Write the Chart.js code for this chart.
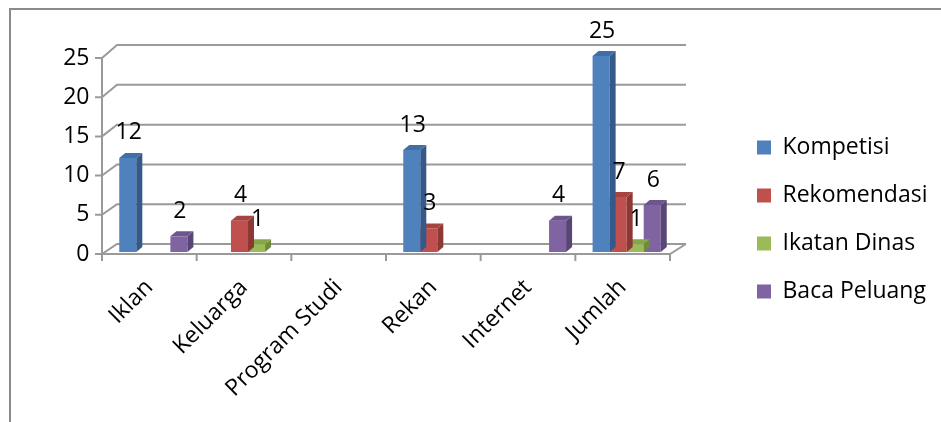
<!DOCTYPE html>
<html>
<head>
<meta charset="utf-8">
<script src="https://cdn.jsdelivr.net/npm/chart.js@4.4.0/dist/chart.umd.min.js"></script>
<style>
  html, body { margin: 0; padding: 0; background: #fff; }
  #wrap { width: 941px; height: 422px; }
</style>
</head>
<body>
<div id="wrap"><canvas id="chart" width="941" height="422"></canvas></div>
<script>
const categories = ['Iklan', 'Keluarga', 'Program Studi', 'Rekan', 'Internet', 'Jumlah'];
const seriesNames = ['Kompetisi', 'Rekomendasi', 'Ikatan Dinas', 'Baca Peluang'];
const kompetisi = [12, 0, 0, 13, 0, 25];
const rekomendasi = [0, 4, 0, 3, 0, 7];
const ikatanDinas = [0, 1, 0, 0, 0, 1];
const bacaPeluang = [2, 0, 0, 0, 4, 6];
const yTicks = [0, 5, 10, 15, 20, 25];

// front / side / top colours for the fake 3d bars
const frontColors = ['#4F81BD', '#C0504D', '#9BBB59', '#8064A2'];
const sideColors = ['#34598a', '#8c3936', '#6f8a3c', '#5a4676'];
const topColors = ['#416ea6', '#a74441', '#87a64b', '#6d5590'];

const FONT = 'Open Sans';
const DEPTH_X = 6, DEPTH_Y = -5;      // bar depth
const SHIFT_X = 4, SHIFT_Y = -2;      // bars sit a bit behind the front plane
const WALL_X = 15, WALL_Y = -10;      // back wall offset
const PLOT_RIGHT = 670;               // right edge of the front floor
const LEGEND_LEFT = 732, LEGEND_TOP = 59, LEGEND_BOTTOM = 380;

const frame3d = {
  id: 'frame3d',
  afterLayout(chart) {
    // park the legend where the original had it, away from the plot
    const lg = chart.legend;
    const w = lg.width;
    lg.left = LEGEND_LEFT;
    lg.right = LEGEND_LEFT + w;
    lg.top = LEGEND_TOP;
    lg.bottom = LEGEND_BOTTOM;
    lg.height = LEGEND_BOTTOM - LEGEND_TOP;
  },
  beforeDraw(chart) {
    const ctx = chart.ctx;
    ctx.save();
    ctx.strokeStyle = '#8a8a8a';
    ctx.lineWidth = 2;
    ctx.beginPath();
    ctx.moveTo(10, 430);
    ctx.lineTo(10, 9);
    ctx.lineTo(950, 9);
    ctx.stroke();
    ctx.restore();
  },
  beforeDatasetsDraw(chart) {
    const { ctx, chartArea: a, scales: { y } } = chart;
    const y0 = y.getPixelForValue(0);
    ctx.save();
    ctx.strokeStyle = '#9a9a9a';
    ctx.lineWidth = 2;
    ctx.beginPath();
    yTicks.forEach(v => {
      const fy = y.getPixelForValue(v);
      const by = fy + WALL_Y - (y0 - fy) * 0.015;
      ctx.moveTo(a.left - 7, fy);
      ctx.lineTo(a.left, fy);
      ctx.lineTo(a.left + WALL_X, by);
      ctx.lineTo(a.right + WALL_X + 1, by);
    });
    // y axis line
    ctx.moveTo(a.left, y.getPixelForValue(25));
    ctx.lineTo(a.left, y0 + 7);
    // floor front edge and right side
    ctx.moveTo(a.left, y0);
    ctx.lineTo(a.right, y0);
    ctx.lineTo(a.right + WALL_X + 1, y0 + WALL_Y);
    // category ticks
    const step = (a.right - a.left) / categories.length;
    for (let i = 0; i <= categories.length; i++) {
      const tx = a.left + i * step;
      ctx.moveTo(tx, y0);
      ctx.lineTo(tx, y0 + 7);
    }
    ctx.stroke();
    ctx.restore();
  },
  beforeDatasetDraw(chart) {
    chart.ctx.save();
    chart.ctx.translate(SHIFT_X, SHIFT_Y);
  },
  afterDatasetDraw(chart, args) {
    const ctx = chart.ctx;
    const i = args.index;
    const data = chart.data.datasets[i].data;
    args.meta.data.forEach((bar, j) => {
      if (!data[j]) return;
      const { x, y, base, width } = bar.getProps(['x', 'y', 'base', 'width'], true);
      const l = x - width / 2, r = x + width / 2;
      ctx.fillStyle = sideColors[i];
      ctx.beginPath();
      ctx.moveTo(r, y);
      ctx.lineTo(r + DEPTH_X, y + DEPTH_Y);
      ctx.lineTo(r + DEPTH_X, base + DEPTH_Y);
      ctx.lineTo(r, base);
      ctx.closePath();
      ctx.fill();
      ctx.fillStyle = topColors[i];
      ctx.beginPath();
      ctx.moveTo(l, y);
      ctx.lineTo(l + DEPTH_X, y + DEPTH_Y);
      ctx.lineTo(r + DEPTH_X, y + DEPTH_Y);
      ctx.lineTo(r, y);
      ctx.closePath();
      ctx.fill();
    });
    ctx.restore();
  },
  afterDatasetsDraw(chart) {
    const ctx = chart.ctx;
    ctx.save();
    ctx.fillStyle = '#000';
    ctx.font = `23px "${FONT}"`;
    ctx.textAlign = 'center';
    ctx.textBaseline = 'middle';
    chart.data.datasets.forEach((ds, i) => {
      chart.getDatasetMeta(i).data.forEach((bar, j) => {
        const v = ds.data[j];
        if (!v) return;
        ctx.fillText(String(v), bar.x + SHIFT_X + 1, bar.y + SHIFT_Y - 25);
      });
    });
    ctx.restore();
  }
};

const seriesData = [kompetisi, rekomendasi, ikatanDinas, bacaPeluang];

new Chart(document.getElementById('chart'), {
  type: 'bar',
  data: {
    labels: categories,
    datasets: seriesNames.map((name, i) => ({
      label: name,
      data: seriesData[i],
      backgroundColor: frontColors[i],
      borderWidth: 0,
      categoryPercentage: 0.72,
      barPercentage: 1.0,
      clip: false
    }))
  },
  options: {
    responsive: false,
    animation: false,
    devicePixelRatio: 1,
    layout: { padding: { top: 58, left: 0, right: 0, bottom: 0 } },
    plugins: {
      legend: {
        position: 'right',
        align: 'center',
        labels: {
          color: '#000',
          font: { family: FONT, size: 23 },
          boxWidth: 14,
          boxHeight: 14,
          padding: 25
        }
      },
      tooltip: { enabled: false }
    },
    scales: {
      x: {
        grid: { display: false, drawTicks: false },
        border: { display: false },
        ticks: {
          color: '#000',
          font: { family: FONT, size: 23 },
          maxRotation: 45,
          minRotation: 45,
          autoSkip: false,
          padding: 20
        },
        afterFit(s) {
          s.height = 168;
          s.paddingRight = 941 - PLOT_RIGHT;
        }
      },
      y: {
        min: 0,
        max: 25,
        grid: { display: false, drawTicks: false },
        border: { display: false },
        ticks: {
          stepSize: 5,
          color: '#000',
          font: { family: FONT, size: 23 },
          padding: 12.5
        },
        afterFit(s) { s.width = 102; }
      }
    }
  },
  plugins: [frame3d]
});
</script>
</body>
</html>
